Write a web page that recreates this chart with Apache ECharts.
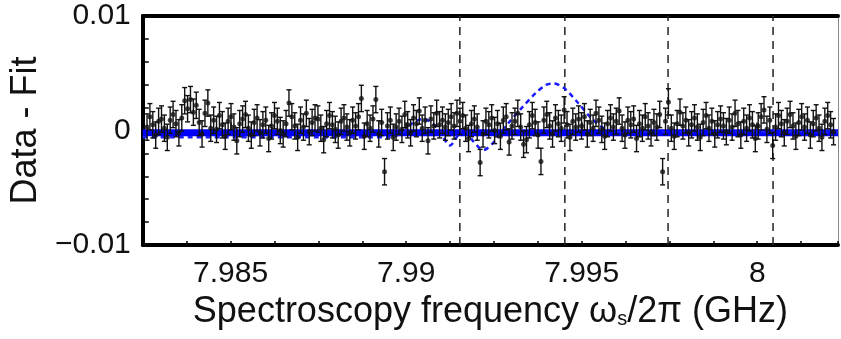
<!DOCTYPE html>
<html>
<head>
<meta charset="utf-8">
<script src="https://cdn.jsdelivr.net/npm/echarts@6.0.0/dist/echarts.min.js"></script>
<style>
  html, body { margin: 0; padding: 0; background: #fff; }
  #residualChart { width: 841px; height: 339px; }
</style>
</head>
<body>
<div id="residualChart"></div>
<script>
// 频率扫描：起点和步长 (GHz)
var freqStart = 7.98262;
var freqStep = 0.0000825;

// 残差 Data - Fit，单位 1e-3
var residualE3 = [
    0.3, 1.2, 0.5, -0.4, 0.8, 1.0, 0.2, -0.6, 0.9, 1.4, 0.6, -0.2, 1.1, 2.6, 1.9, 2.7, 1.6, 2.2, 0.7, -0.3,
    1.5, 2.4, 0.2, 0.9, 0.1, 1.3, 0.5, -0.5, 0.8, 1.2, 0.3, -0.9, 0.6, 1.0, 1.4, 0.2, -0.4, 0.7, 1.1, -0.2,
    0.5, 0.9, -0.7, 0.4, 1.3, 0.8, 0.0, -0.3, 0.6, 2.4, 1.2, 0.4, -0.6, 0.9, 0.3, 1.5, -0.1, 0.7, 1.1, 1.0,
    0.2, -0.8, 0.6, 1.3, 0.5, 0.1, -0.4, 0.8, 1.1, 0.3, -0.2, 0.9, 0.4, 1.2, 2.8, -0.5, 0.6, 0.2, 1.0, 2.7,
    -0.3, 0.7, -3.6, 0.4, 0.9, -0.6, 0.3, 0.8, 0.1, 1.4, 0.5, -0.2, 1.1, 0.6, 1.7, 0.2, 0.9, -0.9, 1.0, 0.4,
    1.5, 0.5, 0.9, 0.3, 0.7, 1.2, 0.4, 1.5, 0.8, 1.3, 0.2, -0.7, 0.6, 1.0, 0.3, -2.8, -0.3, 0.8, 0.5, 1.1,
    0.0, 0.6, -0.5, 0.9, 1.2, -1.0, 0.4, 0.8, 1.5, 0.3, -1.2, -0.8, 0.5, 1.3, 0.7, -0.4, -2.7, 0.9, 1.4, 0.4,
    -0.3, 1.1, 0.6, 0.2, 1.8, 0.5, -0.6, 0.8, 0.3, 1.0, 0.4, 1.2, -0.3, 0.7, 0.2, 1.5, 0.9, 0.1, -0.5, 0.6,
    1.1, 0.3, 0.8, 1.7, 0.2, -0.4, 0.9, 0.5, 1.0, -0.7, 0.6, 0.2, 1.2, 0.4, -0.2, 0.7, 0.3, 1.4, -3.6, 0.8,
    2.5, 0.2, -0.5, 0.6, 1.6, 0.4, 0.9, -0.2, 0.5, 1.1, 0.3, -0.6, 0.7, 1.3, 0.2, 0.8, -0.3, 0.5, 1.0, 0.4,
    -0.1, 0.9, 0.3, 1.5, 0.6, -0.4, 0.8, 0.2, 1.1, 0.5, -0.7, 0.4, 1.2, 1.8, 0.1, 0.9, -1.3, 0.3, 1.3, 0.6,
    -0.2, 0.8, 1.4, 0.4, -0.5, 0.7, 1.2, 0.3, 0.9, -0.4, 0.6, 1.1, 0.2, -0.6, 0.8, 1.3, 0.5, -0.1
];
// 误差棒半长，单位 1e-3
var errorE3 = 1.15;

// 拟合基线 (粗蓝线)
var fitFreq = [7.9825, 8.0023];
var fitE3 = [-0.2, -0.2];

// 模型曲线 (蓝色虚线)
var modelFreq = [7.9825, 7.9895, 7.9899, 7.9902, 7.9905, 7.9909, 7.99125, 7.9915, 7.99165, 7.9919,
    7.9922, 7.9925, 7.9929, 7.9933, 7.9937, 7.9940, 7.9942, 7.9945, 7.9949, 7.9953, 7.9957, 7.9962, 8.0023];
var modelE3 = [-0.6, -0.6, -0.2, 0.7, 1.0, 0.2, -1.3, -0.3, 0.2, -0.9,
    -1.7, -1.0, 0.6, 2.0, 3.3, 4.0, 4.1, 3.7, 2.4, 1.0, 0.1, -0.1, -0.1];

// 竖直虚线位置 (GHz)
var markFreqs = [7.99153, 7.99452, 7.99746, 8.00045];

// x 轴主刻度
var xMajorTicks = [7.985, 7.99, 7.995, 8];

function showResidualChart() {
    var myChart = echarts.init(document.getElementById('residualChart'));
    var font = 'Liberation Sans, Arial, Helvetica, sans-serif';

    var points = residualE3.map(function (v, i) {
        return [freqStart + i * freqStep, v * 1e-3];
    });
    var errBars = residualE3.map(function (v, i) {
        return [freqStart + i * freqStep, (v - errorE3) * 1e-3, (v + errorE3) * 1e-3];
    });
    var fitData = fitFreq.map(function (f, i) { return [f, fitE3[i] * 1e-3]; });
    var modelData = modelFreq.map(function (f, i) { return [f, modelE3[i] * 1e-3]; });

    // 竖直虚线，每条一个 line 系列
    var markSeries = markFreqs.map(function (f) {
        return {
            type: 'line',
            data: [[f, -0.01], [f, 0.01]],
            showSymbol: false,
            silent: true,
            z: 1,
            lineStyle: { color: '#222', width: 1.5, type: [8, 6] }
        };
    });

    var option = {
        backgroundColor: '#fff',
        animation: false,
        grid: { left: 140, right: 3, top: 16, bottom: 94 },
        xAxis: [
            {
                type: 'value',
                position: 'bottom',
                min: 7.9825,
                max: 8.0023,
                interval: 0.00125,
                name: 'Spectroscopy frequency ω{s|s}/2π (GHz)',
                nameLocation: 'middle',
                nameGap: 44,
                nameTextStyle: {
                    fontFamily: font,
                    fontSize: 36,
                    color: '#111',
                    rich: {
                        s: { fontFamily: font, fontSize: 20, color: '#111', verticalAlign: 'bottom', padding: [14, 0, 0, 0] }
                    }
                },
                axisLine: { onZero: false, lineStyle: { color: '#000', width: 4 } },
                axisTick: { inside: true, length: 4, lineStyle: { color: '#000', width: 1.5 } },
                axisLabel: {
                    margin: 14,
                    fontFamily: font,
                    fontSize: 30,
                    color: '#111',
                    formatter: function (v) {
                        var k = v * 200;
                        if (Math.abs(k - Math.round(k)) < 1e-6) {
                            return String(+v.toFixed(3));
                        }
                        return '';
                    }
                },
                splitLine: { show: false }
            },
            {
                // 主刻度 (较长)
                type: 'value',
                position: 'bottom',
                min: 7.9825,
                max: 8.0023,
                axisLine: { show: false },
                axisTick: {
                    inside: true, length: 8, customValues: xMajorTicks,
                    lineStyle: { color: '#000', width: 1.5 }
                },
                axisLabel: { show: false },
                splitLine: { show: false }
            },
            {
                // 顶部边框
                type: 'value',
                position: 'top',
                min: 7.9825,
                max: 8.0023,
                axisLine: { onZero: false, lineStyle: { color: '#000', width: 4 } },
                axisTick: { show: false },
                axisLabel: { show: false },
                splitLine: { show: false }
            }
        ],
        yAxis: [
            {
                type: 'value',
                position: 'left',
                min: -0.01,
                max: 0.01,
                interval: 0.002,
                name: 'Data - Fit',
                nameLocation: 'middle',
                nameGap: 92,
                nameTextStyle: { fontFamily: font, fontSize: 36, color: '#111' },
                axisLine: { onZero: false, lineStyle: { color: '#000', width: 4 } },
                axisTick: { inside: true, length: 6, lineStyle: { color: '#000', width: 1.5 } },
                axisLabel: {
                    margin: 12,
                    fontFamily: font,
                    fontSize: 30,
                    color: '#111',
                    formatter: function (v) {
                        if (Math.abs(v) < 1e-9) return '0';
                        if (Math.abs(v - 0.01) < 1e-9) return '0.01';
                        if (Math.abs(v + 0.01) < 1e-9) return '\u22120.01';
                        return '';
                    }
                },
                splitLine: { show: false }
            },
            {
                // 右侧细边框
                type: 'value',
                position: 'right',
                min: -0.01,
                max: 0.01,
                axisLine: { onZero: false, lineStyle: { color: '#888', width: 1 } },
                axisTick: { show: false },
                axisLabel: { show: false },
                splitLine: { show: false }
            }
        ],
        series: markSeries.concat([
            {
                name: 'fit',
                type: 'line',
                data: fitData,
                showSymbol: false,
                lineStyle: { color: '#0000ff', width: 7 },
                z: 2,
                silent: true
            },
            {
                name: 'model',
                type: 'line',
                data: modelData,
                showSymbol: false,
                smooth: 0.3,
                lineStyle: { color: '#1a1aff', width: 2.5, type: [5, 4] },
                z: 3,
                silent: true
            },
            {
                name: 'error',
                type: 'custom',
                data: errBars,
                z: 4,
                silent: true,
                renderItem: function (params, api) {
                    var x = api.value(0);
                    var lo = api.coord([x, api.value(1)]);
                    var hi = api.coord([x, api.value(2)]);
                    var cap = 2.5;
                    var st = { stroke: '#111', lineWidth: 1.4 };
                    return {
                        type: 'group',
                        children: [
                            { type: 'line', shape: { x1: lo[0], y1: lo[1], x2: hi[0], y2: hi[1] }, style: st },
                            { type: 'line', shape: { x1: lo[0] - cap, y1: lo[1], x2: lo[0] + cap, y2: lo[1] }, style: st },
                            { type: 'line', shape: { x1: hi[0] - cap, y1: hi[1], x2: hi[0] + cap, y2: hi[1] }, style: st }
                        ]
                    };
                }
            },
            {
                name: 'data',
                type: 'scatter',
                data: points,
                symbol: 'circle',
                symbolSize: 5,
                itemStyle: { color: '#111' },
                z: 5,
                silent: true
            }
        ])
    };
    myChart.setOption(option);
    return option;
}
showResidualChart();
</script>
</body>
</html>
